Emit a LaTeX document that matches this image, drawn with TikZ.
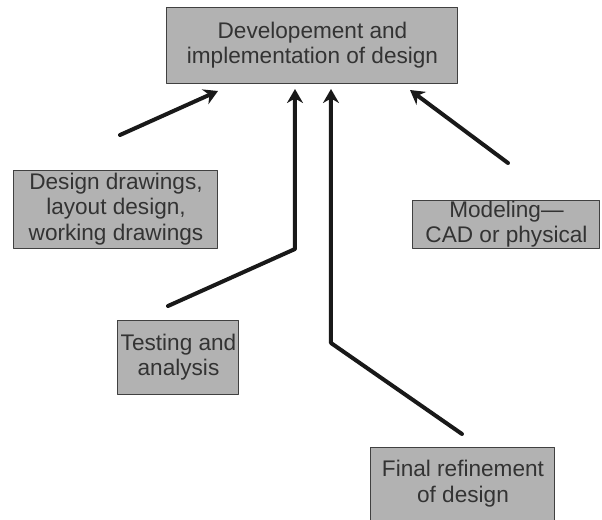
\documentclass[tikz,border=0pt]{standalone}
\usepackage{fontspec}
\setmainfont{Liberation Sans}
\usetikzlibrary{arrows.meta,positioning}

\begin{document}
\begin{tikzpicture}[x=0.5pt,y=-0.5pt,>={Stealth[length=7pt,width=8pt]},line join=round,line cap=round,
  stagebox/.style={draw=black!75,line width=0.5pt,fill=black!30,text=black!80,align=center,inner sep=0pt,
    font=\fontsize{11.3}{12.8}\selectfont},
  flow/.style={line width=2pt,black!90}]
  \useasboundingbox (0,0) rectangle (602,520);

  \node[stagebox,minimum width=145.5pt,minimum height=38pt] (dev) at (312.5,45)
    {Developement and\\implementation of design};
  \node[stagebox,minimum width=102pt,minimum height=39pt] (draw) at (116,209)
    {Design drawings,\\layout design,\\working drawings};
  \node[stagebox,minimum width=93.5pt,minimum height=24pt] (model) at (506.5,224)
    {Modeling---\\CAD or physical};
  \node[stagebox,minimum width=60.5pt,minimum height=37pt] (test) at (178.5,357)
    {Testing and\\analysis};
  \node[stagebox,minimum width=92pt,minimum height=36.5pt] (final) at (463,483.5)
    {Final refinement\\of design};

  \coordinate (t1) at (120,135);
  \coordinate (h1) at (218,91);
  \coordinate (t2) at (168,306);
  \coordinate (b2) at (295,249);
  \coordinate (h2) at (295,89);
  \coordinate (t3) at (462,434);
  \coordinate (b3) at (331,343);
  \coordinate (h3) at (331,89);
  \coordinate (t4) at (508,163);
  \coordinate (h4) at (410,90);

  \draw[flow,->] (t1)--(h1);
  \draw[flow,->] (t2)--(b2)--(h2);
  \draw[flow,->] (t3)--(b3)--(h3);
  \draw[flow,->] (t4)--(h4);
\end{tikzpicture}
\end{document}
